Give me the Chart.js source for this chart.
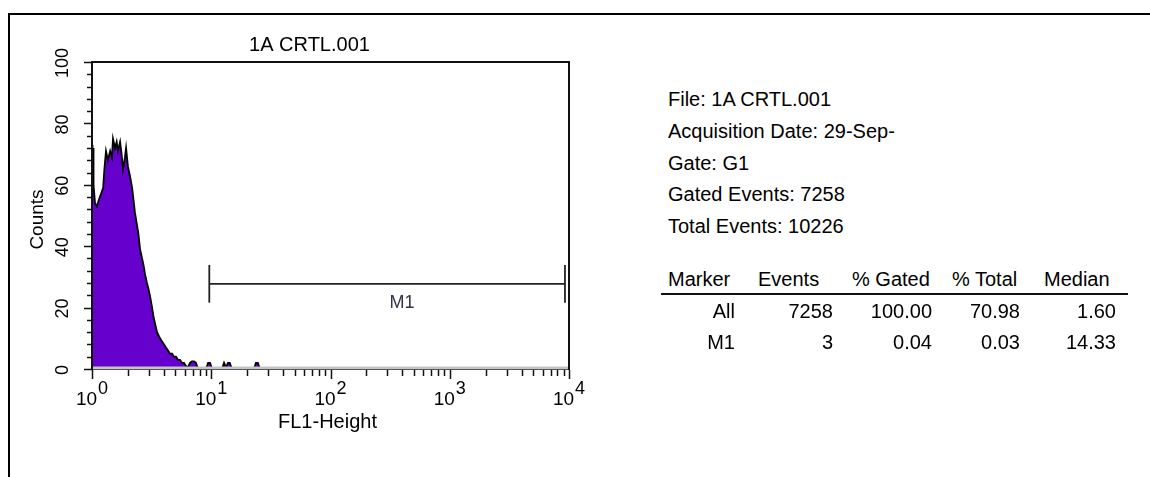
<!DOCTYPE html>
<html>
<head>
<meta charset="utf-8">
<script src="https://cdn.jsdelivr.net/npm/chart.js@4/dist/chart.umd.min.js"></script>
<style>
  body { margin: 0; background: #fff; width: 1150px; height: 477px; overflow: hidden; position: relative;
         font-family: "Liberation Sans", Arial, sans-serif; color: #000; }
  #frame { position: absolute; left: 8px; top: 13px; width: 1150px; height: 470px;
           border-top: 2px solid #000; border-left: 2px solid #000; }
  #plot { position: absolute; left: 0; top: 0; }
  .t { position: absolute; font-size: 20px; line-height: 22px; white-space: nowrap; }
  .r { text-align: right; }
  #rule { position: absolute; left: 661px; top: 293px; width: 467px; height: 2px; background: #111; }
</style>
</head>
<body>
<div id="frame"></div>
<canvas id="plot" width="640" height="477"></canvas>
<div id="info"></div>
<div id="rule"></div>
<script>
// histogram: FL1 channel value and event count
const fl1 = [1.00, 1.01, 1.02, 1.03, 1.06, 1.10, 1.14, 1.19, 1.24, 1.27, 1.31, 1.36, 1.42, 1.47, 1.50,
             1.56, 1.61, 1.65, 1.72, 1.77, 1.82, 1.89, 1.93, 2.00, 2.08, 2.17, 2.23, 2.29, 2.38, 2.45,
             2.53, 2.63, 2.70, 2.78, 2.89, 2.98, 3.06, 3.19, 3.28, 3.37, 3.51, 3.61, 3.72, 3.86, 4.02,
             4.17, 4.34, 4.51, 4.69, 4.87, 5.06, 5.26, 5.47, 5.68, 5.91, 6.14, 6.38, 6.63, 6.90, 7.17,
             7.45, 7.74, 9.04, 9.40, 9.77, 10.15, 12.3, 12.8, 13.3, 13.8, 14.3, 14.9, 22.8, 23.7, 24.6,
             25.6];
const counts = [73, 58, 72, 60, 54, 53, 55, 57, 59, 65, 71, 68, 71, 69, 75,
                72, 74, 71, 74, 70, 65, 69, 72, 66, 63, 59, 55, 51, 47, 44,
                39, 36, 34, 31, 28, 26, 24, 20, 17, 15, 12, 11, 10, 9, 8,
                7, 6, 5, 5, 4, 4, 3, 3, 2, 2, 1, 0.5, 2, 2.5, 2.5,
                2, 0, 0, 2, 2, 0, 0, 2, 0.5, 2, 2, 0, 0, 2, 2,
                0];

// M1 marker
const m1Range = [9.63, 9250];
const m1Level = 27.7;
const m1Cap = [21.6, 33.9];
const m1LabelAt = 398;

// axes
const xDecades = [1, 10, 100, 1000, 10000];
const yLabels = [0, 20, 40, 60, 80, 100];
const yMinorStep = 4;

const infoLines = ['File: 1A CRTL.001', 'Acquisition Date: 29-Sep-', 'Gate: G1',
                   'Gated Events: 7258', 'Total Events: 10226'];
const tableHead = ['Marker', 'Events', '% Gated', '% Total', 'Median'];
const tableRows = [
    ['All', '7258', '100.00', '70.98', '1.60'],
    ['M1', '3', '0.04', '0.03', '14.33'],
];

// ---- right hand stats panel
const info = document.getElementById('info');
const infoTop = [88, 120, 152, 183, 215];
infoLines.forEach((s, i) => {
    const d = document.createElement('div');
    d.className = 't';
    d.style.left = '668px'; d.style.top = infoTop[i] + 'px';
    d.textContent = s;
    info.appendChild(d);
});
const headLeft = [668, 758, 852, 952, 1044];
tableHead.forEach((s, i) => {
    const d = document.createElement('div');
    d.className = 't';
    d.style.left = headLeft[i] + 'px'; d.style.top = '268px';
    d.textContent = s;
    info.appendChild(d);
});
const colRight = [735, 833, 932, 1020, 1116];
tableRows.forEach((row, r) => {
    row.forEach((s, i) => {
        const d = document.createElement('div');
        d.className = 't r';
        d.style.left = (colRight[i] - 120) + 'px'; d.style.width = '120px';
        d.style.top = (300 + r * 31) + 'px';
        d.textContent = s;
        info.appendChild(d);
    });
});

// ---- chart
const FONT = '"Liberation Sans", Arial, sans-serif';

const facsAxes = {
    id: 'facsAxes',
    afterDatasetsDraw(chart) {
        const { ctx, chartArea: a, scales: { x, y } } = chart;
        ctx.save();

        // bottom baseline
        ctx.strokeStyle = '#c4c4c4'; ctx.lineWidth = 2.5;
        ctx.beginPath(); ctx.moveTo(a.left, a.bottom - 1.25); ctx.lineTo(a.right, a.bottom - 1.25); ctx.stroke();
        ctx.strokeStyle = '#555'; ctx.lineWidth = 1;
        ctx.beginPath(); ctx.moveTo(a.left, a.bottom + 0.5); ctx.lineTo(a.right, a.bottom + 0.5); ctx.stroke();

        // box
        ctx.strokeStyle = '#111'; ctx.lineWidth = 2;
        ctx.beginPath();
        ctx.moveTo(a.left, a.bottom + 1); ctx.lineTo(a.left, a.top);
        ctx.lineTo(a.right, a.top); ctx.lineTo(a.right, a.bottom + 1);
        ctx.stroke();

        // y ticks
        ctx.lineWidth = 1.5;
        for (let v = 0; v <= 100; v += yMinorStep) {
            const py = Math.round(y.getPixelForValue(v)) + 0.5;
            const len = v % 20 === 0 ? 8 : 5;
            ctx.beginPath(); ctx.moveTo(a.left - len, py); ctx.lineTo(a.left, py); ctx.stroke();
        }
        // x ticks
        xDecades.forEach((d, i) => {
            const steps = i < xDecades.length - 1 ? 9 : 1;
            for (let k = 1; k <= steps; k++) {
                const px = Math.round(x.getPixelForValue(d * k)) + 0.5;
                const len = k === 1 ? 9 : 6;
                ctx.beginPath(); ctx.moveTo(px, a.bottom + 1); ctx.lineTo(px, a.bottom + 1 + len); ctx.stroke();
            }
        });

        ctx.fillStyle = '#000';
        // x labels 10^n
        xDecades.forEach(d => {
            const px = x.getPixelForValue(d);
            const exp = String(Math.round(Math.log10(d)));
            ctx.font = '19px ' + FONT;
            const w10 = ctx.measureText('10').width;
            ctx.font = '18px ' + FONT;
            const we = ctx.measureText(exp).width;
            const x0 = px - (w10 + we + 1) / 2;
            ctx.textAlign = 'left'; ctx.textBaseline = 'alphabetic';
            ctx.font = '19px ' + FONT;
            ctx.fillText('10', x0, 405);
            ctx.font = '18px ' + FONT;
            ctx.fillText(exp, x0 + w10 + 1, 394);
        });

        // y labels, rotated
        ctx.font = '18px ' + FONT;
        ctx.textAlign = 'center'; ctx.textBaseline = 'middle';
        yLabels.forEach(v => {
            ctx.save();
            ctx.translate(62, y.getPixelForValue(v) + 1);
            ctx.rotate(-Math.PI / 2);
            ctx.fillText(String(v), 0, 1);
            ctx.restore();
        });

        // titles
        ctx.font = '20px ' + FONT;
        ctx.fillText('1A CRTL.001', (a.left + a.right) / 2 - 21, 45);
        ctx.fillText('FL1-Height', (a.left + a.right) / 2 - 3, 422);
        ctx.save();
        ctx.translate(38, (a.top + a.bottom) / 2 + 4);
        ctx.rotate(-Math.PI / 2);
        ctx.font = '19px ' + FONT;
        ctx.fillText('Counts', 0, 0);
        ctx.restore();

        // marker label
        ctx.fillStyle = '#33334a';
        ctx.font = '18px ' + FONT;
        ctx.fillText('M1', x.getPixelForValue(m1LabelAt), y.getPixelForValue(m1Level) + 19);

        ctx.restore();
    }
};

const markerStyle = { borderColor: '#222', borderWidth: 1.8, pointRadius: 0, fill: false, clip: false };

new Chart(document.getElementById('plot'), {
    type: 'line',
    data: {
        datasets: [
            {
                data: fl1.map((v, i) => ({ x: v, y: counts[i] })),
                borderColor: '#000', borderWidth: 1.8, backgroundColor: '#6600cc',
                fill: 'origin', pointRadius: 0, tension: 0,
            },
            { ...markerStyle, data: [{ x: m1Range[0], y: m1Level }, { x: m1Range[1], y: m1Level }] },
            { ...markerStyle, data: [{ x: m1Range[0], y: m1Cap[0] }, { x: m1Range[0], y: m1Cap[1] }] },
            { ...markerStyle, data: [{ x: m1Range[1], y: m1Cap[0] }, { x: m1Range[1], y: m1Cap[1] }] },
        ],
    },
    options: {
        animation: false,
        responsive: false,
        layout: { padding: { left: 92, right: 71, top: 62, bottom: 108 } },
        plugins: { legend: { display: false }, tooltip: { enabled: false }, title: { display: false } },
        scales: {
            x: { type: 'logarithmic', min: 1, max: 10000, display: false },
            y: { type: 'linear', min: 0, max: 100, display: false },
        },
    },
    plugins: [facsAxes],
});
</script>
</body>
</html>
